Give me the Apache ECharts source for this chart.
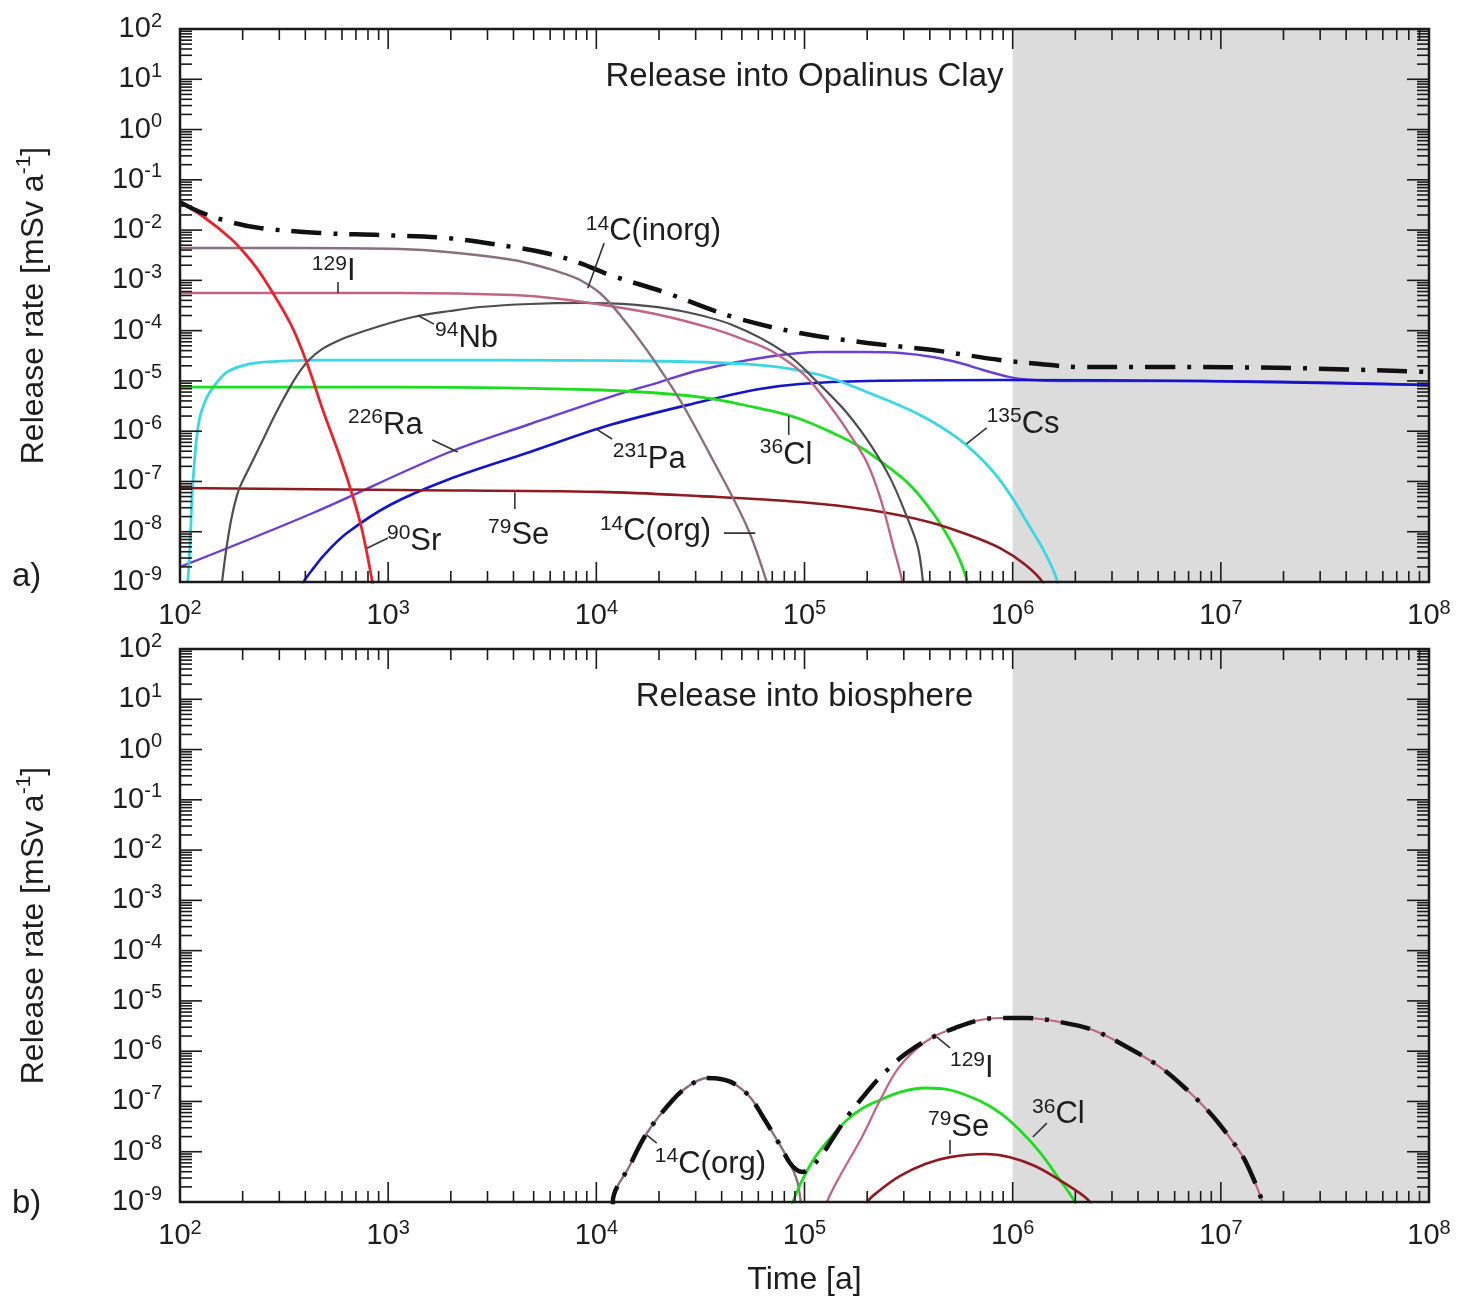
<!DOCTYPE html>
<html>
<head>
<meta charset="UTF-8">
<title>Release rates</title>
<script src="https://cdn.jsdelivr.net/npm/echarts@6/dist/echarts.min.js"></script>
<style>
html,body{margin:0;padding:0;background:#fff}
#main{width:1458px;height:1298px}
</style>
</head>
<body>
<div id="main"></div>
<script>
// data: [time (a), release rate (mSv/a)]
// a) release into Opalinus Clay
var sr90 = [[100,3.6e-2],[132,1.74e-2],[174,6.95e-3],[210,3.05e-3],[250,1.17e-3],[338,1.42e-4],[407,2.27e-5],[486,2.6e-6],[587,3.06e-7],[678,4.9e-8],[749,1.08e-8],[836,1.1e-9],[850,6e-10]];
var c14inorg = [[100,4.4e-3],[377,4.4e-3],[1140,4.2e-3],[1920,3.67e-3],[3980,2.54e-3],[5990,1.68e-3],[7060,1.34e-3],[8350,1.02e-3],[1.04e4,5.6e-4],[1.3e4,2.05e-4],[1.75e4,4.1e-5],[2.52e4,4.17e-6],[3.63e4,2.67e-7],[5.3e4,1.24e-8],[6.61e4,9.5e-10],[6.8e4,5e-10]];
var i129 = [[100,5.6e-4],[1140,5.6e-4],[3980,5.1e-4],[6700,4.25e-4],[1.16e4,3.09e-4],[2.02e4,2.05e-4],[3.52e4,1.13e-4],[5.18e4,6.5e-5],[7.06e4,3.76e-5],[1.0e5,1.31e-5],[1.37e5,2.64e-6],[1.67e5,8e-7],[2.0e5,2.33e-7],[2.33e5,4.27e-8],[2.66e5,5.4e-9],[2.94e5,1.1e-9],[3.0e5,5e-10]];
var nb94 = [[159,9.5e-10],[163,2.2e-9],[168,5.4e-9],[176,1.71e-8],[185,4.2e-8],[194,7.8e-8],[222,2.43e-7],[250,6.7e-7],[289,2.3e-6],[338,7.6e-6],[377,1.57e-5],[421,2.72e-5],[481,4.3e-5],[555,5.9e-5],[634,7.5e-5],[914,1.24e-4],[1320,1.87e-4],[1980,2.46e-4],[2760,2.95e-4],[4800,3.39e-4],[8400,3.55e-4],[1.5e4,3.3e-4],[2.5e4,2.5e-4],[4.5e4,1.3e-4],[8.1e4,3.6e-5],[1.2e5,8e-6],[1.6e5,2.3e-6],[2.1e5,5e-7],[2.6e5,1.1e-7],[3.1e5,2e-8],[3.5e5,5e-9],[3.7e5,1.1e-9],[3.75e5,5e-10]];
var cs135 = [[109,9.5e-10],[112,6.8e-9],[114,4.3e-8],[117,2.12e-7],[121,9.2e-7],[126,2.3e-6],[135,4.8e-6],[147,8.3e-6],[168,1.5e-5],[205,2.07e-5],[262,2.38e-5],[471,2.6e-5],[3440,2.6e-5],[1.81e4,2.49e-5],[6.1e4,2.07e-5],[1.19e5,1.31e-5],[2.06e5,5.7e-6],[3.59e5,2.1e-6],[5.58e5,6.7e-7],[7.78e5,1.85e-7],[9.7e5,5.6e-8],[1.21e6,1.24e-8],[1.43e6,3.8e-9],[1.63e6,1.1e-9],[1.66e6,5e-10]];
var cl36 = [[100,7.55e-6],[1140,7.55e-6],[1.04e4,6.6e-6],[3.15e4,4.78e-6],[6.6e4,2.64e-6],[9.5e4,1.75e-6],[1.37e5,9.2e-7],[1.85e5,4.84e-7],[2.38e5,2.33e-7],[3.21e5,8.5e-8],[4.14e5,2.36e-8],[5.0e5,6.8e-9],[5.58e5,2.7e-9],[6.04e5,1e-9],[6.1e5,5e-10]];
var se79 = [[100,7.4e-8],[1140,6.76e-8],[1.04e4,6.2e-8],[3.15e4,5.1e-8],[9.5e4,3.9e-8],[2.06e5,2.7e-8],[4.0e5,1.55e-8],[6.2e5,8.5e-9],[8.7e5,4.7e-9],[1.15e6,2.2e-9],[1.4e6,9.6e-10],[1.45e6,5e-10]];
var ra226 = [[100,1.99e-9],[435,2.36e-8],[1920,3.68e-7],[4800,1.39e-6],[1.16e4,4.78e-6],[2.02e4,9.5e-6],[3.15e4,1.65e-5],[6.6e4,2.99e-5],[1.19e5,3.76e-5],[2.0e5,3.76e-5],[2.88e5,3.59e-5],[4.14e5,2.99e-5],[5.58e5,2.27e-5],[7.2e5,1.65e-5],[9.7e5,1.19e-5],[1.25e6,1.04e-5],[1.69e6,9.95e-6],[7.94e6,9.95e-6],[1e8,8.3e-6]];
var pa231 = [[385,6.9e-10],[390,9.5e-10],[431,1.73e-9],[497,3.6e-9],[634,9.4e-9],[1020,3.4e-8],[1920,1.07e-7],[4800,3.85e-7],[1.16e4,1.32e-6],[3.15e4,3.8e-6],[6.1e4,6.9e-6],[9.5e4,8.7e-6],[2.0e5,9.95e-6],[8.7e5,1.04e-5],[7.94e6,9.95e-6],[1e8,8.3e-6]];
var totalA = [[100,3.6e-2],[125,2.29e-2],[174,1.45e-2],[242,1.1e-2],[471,8.75e-3],[914,7.98e-3],[1920,6.95e-3],[3980,4.6e-3],[5990,3.34e-3],[8350,2.21e-3],[1.16e4,1.28e-3],[2.18e4,5.6e-4],[4.53e4,1.87e-4],[9.5e4,8.97e-5],[2.0e5,5.7e-5],[4.14e5,4.1e-5],[8.7e5,2.6e-5],[1.35e6,2.17e-5],[2.1e6,1.89e-5],[5.1e6,1.89e-5],[2.22e7,1.8e-5],[1e8,1.5e-5]];

// b) release into biosphere
var c14orgB = [[1.24e4,5.5e-10],[1.2e4,1e-9],[1.45e4,5.4e-9],[1.75e4,2.36e-8],[2.33e4,1.07e-7],[2.82e4,2.12e-7],[3.4e4,2.92e-7],[3.93e4,2.8e-7],[4.53e4,2.33e-7],[5.47e4,1.23e-7],[6.32e4,4.9e-8],[7.38e4,1.71e-8],[8.51e4,5.96e-9],[9.2e4,2.7e-9],[9.5e4,1.37e-9],[9.72e4,6.3e-10]];
var cl36B = [[8.6e4,6.3e-10],[8.8e4,1e-9],[9.5e4,2.18e-9],[1.1e5,6.8e-9],[1.33e5,1.87e-8],[1.6e5,4.27e-8],[1.91e5,7.4e-8],[2.31e5,1.07e-7],[2.88e5,1.54e-7],[3.8e5,1.85e-7],[5.0e5,1.69e-7],[6.97e5,1.02e-7],[8.7e5,5.9e-8],[1.08e6,2.7e-8],[1.35e6,9.8e-9],[1.65e6,3.1e-9],[1.99e6,1e-9],[2.04e6,6.3e-10]];
var i129B = [[1.25e5,6.3e-10],[1.28e5,1e-9],[1.48e5,3.3e-9],[1.69e5,8.6e-9],[1.91e5,2.15e-8],[2.31e5,1.07e-7],[2.78e5,4.2e-7],[3.4e5,1.05e-6],[4.14e5,1.91e-6],[5.28e5,2.89e-6],[6.97e5,4.17e-6],[8.7e5,4.57e-6],[1.17e6,4.57e-6],[1.69e6,3.8e-6],[2.43e6,2.64e-6],[3.54e6,1.21e-6],[5.1e6,4.84e-7],[6.73e6,1.85e-7],[8.87e6,5.9e-8],[1.08e7,2.15e-8],[1.28e7,7.8e-9],[1.41e7,3.4e-9],[1.51e7,1.73e-9],[1.58e7,1e-9],[1.62e7,5.5e-10]];
var se79B = [[1.95e5,6.3e-10],[2.0e5,1e-9],[2.31e5,1.73e-9],[2.88e5,3.3e-9],[3.8e5,5.7e-9],[5.0e5,7.8e-9],[7.36e5,9.0e-9],[9.7e5,7.8e-9],[1.28e6,5.2e-9],[1.69e6,2.7e-9],[2.1e6,1.5e-9],[2.35e6,1e-9],[2.43e6,6.3e-10]];
var totalB = [[1.24e4,5.5e-10],[1.2e4,1e-9],[1.45e4,5.4e-9],[1.75e4,2.36e-8],[2.33e4,1.07e-7],[2.82e4,2.12e-7],[3.4e4,2.92e-7],[3.93e4,2.8e-7],[4.53e4,2.33e-7],[5.47e4,1.23e-7],[6.32e4,4.9e-8],[7.38e4,1.71e-8],[8.51e4,5.96e-9],[9.2e4,4.3e-9],[9.84e4,3.95e-9],[1.06e5,4.74e-9],[1.19e5,7.8e-9],[1.37e5,1.87e-8],[1.6e5,4.9e-8],[1.91e5,1.23e-7],[2.31e5,3.06e-7],[2.88e5,7.3e-7],[3.4e5,1.21e-6],[4.14e5,1.91e-6],[5.28e5,2.89e-6],[6.97e5,4.17e-6],[8.7e5,4.57e-6],[1.17e6,4.57e-6],[1.69e6,3.8e-6],[2.43e6,2.64e-6],[3.54e6,1.21e-6],[5.1e6,4.84e-7],[6.73e6,1.85e-7],[8.87e6,5.9e-8],[1.08e7,2.15e-8],[1.28e7,7.8e-9],[1.41e7,3.4e-9],[1.51e7,1.73e-9],[1.58e7,1e-9],[1.62e7,5.5e-10]];

// curve labels: [sup, text, anchor (left, middle), leader from, leader to]
var notesA = [
  ['14', 'C(inorg)', [8.9e3, 9.2e-3], [1.09e4, 5.5e-3], [9.1e3, 7.0e-4]],
  ['129', 'I', [430, 1.47e-3], [574, 9.3e-4], [574, 5.6e-4]],
  ['94', 'Nb', [1.68e3, 7.1e-5], [1.39e3, 2.0e-4], [1.66e3, 1.35e-4]],
  ['226', 'Ra', [641, 1.33e-6], [1.63e3, 6.7e-7], [2.16e3, 3.85e-7]],
  ['90', 'Sr', [987, 6.5e-9], [791, 4.7e-9], [998, 7.5e-9]],
  ['79', 'Se', [3.02e3, 8.6e-9], [4.06e3, 6.0e-8], [4.06e3, 2.83e-8]],
  ['231', 'Pa', [1.2e4, 2.8e-7], [1.0e4, 1.1e-6], [1.19e4, 7.0e-7]],
  ['36', 'Cl', [6.1e4, 3.36e-7], [8.4e4, 2.0e-6], [8.4e4, 8.4e-7]],
  ['14', 'C(org)', [1.04e4, 9.9e-9], [4.1e4, 9.4e-9], [5.8e4, 9.4e-9]],
  ['135', 'Cs', [7.5e5, 1.39e-6], [6.0e5, 5.6e-7], [7.5e5, 1.16e-6]]
];
var notesB = [
  ['14', 'C(org)', [1.91e4, 5.7e-9], [1.75e4, 2.15e-8], [1.95e4, 1.49e-8]],
  ['129', 'I', [5.0e5, 4.6e-7], [4.33e5, 1.9e-6], [5.0e5, 1.16e-6]],
  ['79', 'Se', [3.92e5, 3.1e-8], [5.0e5, 1.71e-8], [5.0e5, 9.0e-9]],
  ['36', 'Cl', [1.24e6, 5.4e-8], [1.25e6, 1.96e-8], [1.46e6, 3.7e-8]]
];

var FONT = "'Liberation Sans', Arial, Helvetica, sans-serif";
var INK = '#1e1e1e';

function powLabel(v) {
  var e = Math.round(Math.log(v) / Math.LN10);
  return '{b|10}{s|' + e + '}';
}
var tickRich = {
  b: {fontSize: 29, fontFamily: FONT, color: INK, lineHeight: 36},
  s: {fontSize: 20, fontFamily: FONT, color: INK, lineHeight: 20, verticalAlign: 'top'}
};
var nameRich = {
  n: {fontSize: 32, fontFamily: FONT, color: INK, lineHeight: 40},
  s: {fontSize: 21, fontFamily: FONT, color: INK, lineHeight: 22, verticalAlign: 'top'}
};

// tick marks drawn inside the frame on all four sides
function buildTicks() {
  var out = [], e, m;
  for (e = 2; e <= 8; e++) {
    out.push([Math.pow(10, e), 1, 0]);
    if (e < 8) for (m = 2; m <= 9; m++) out.push([m * Math.pow(10, e), 1, 1]);
  }
  for (e = -9; e <= 2; e++) {
    out.push([1000, Math.pow(10, e), 2]);
    if (e < 2) for (m = 2; m <= 9; m++) out.push([1000, m * Math.pow(10, e), 3]);
  }
  out.push([1000, 1, 4]);
  return out;
}
function renderTicks(params, api) {
  var cs = params.coordSys;
  var kind = api.value(2);
  var st = {stroke: '#1a1a1a', lineWidth: 1.6};
  var bottom = cs.y + cs.height, right = cs.x + cs.width;
  if (kind === 4) {
    return {type: 'rect', shape: {x: cs.x, y: cs.y, width: cs.width, height: cs.height},
      style: {fill: null, stroke: '#1a1a1a', lineWidth: 2.5}};
  }
  if (kind < 2) {
    var px = api.coord([api.value(0), 1])[0];
    var len = kind === 0 ? 20 : 11;
    return {type: 'group', children: [
      {type: 'line', shape: {x1: px, y1: bottom, x2: px, y2: bottom - len}, style: st},
      {type: 'line', shape: {x1: px, y1: cs.y, x2: px, y2: cs.y + len}, style: st}
    ]};
  }
  var py = api.coord([1000, api.value(1)])[1];
  var ylen = kind === 2 ? 22 : 12;
  return {type: 'group', children: [
    {type: 'line', shape: {x1: cs.x, y1: py, x2: cs.x + ylen, y2: py}, style: st},
    {type: 'line', shape: {x1: right, y1: py, x2: right - ylen, y2: py}, style: st}
  ]};
}

function xAxisOf(g, extra) {
  var ax = {
    gridIndex: g, type: 'log', logBase: 10, min: 100, max: 1e8, interval: 1,
    axisLine: {show: false}, axisTick: {show: false}, splitLine: {show: false},
    axisLabel: {formatter: powLabel, rich: tickRich, margin: 16, showMinLabel: true, showMaxLabel: true}
  };
  return Object.assign(ax, extra || {});
}
function yAxisOf(g) {
  return {
    gridIndex: g, type: 'log', logBase: 10, min: 1e-9, max: 100, interval: 1,
    axisLine: {show: false}, axisTick: {show: false}, splitLine: {show: false},
    axisLabel: {formatter: powLabel, rich: tickRich, margin: 18, showMinLabel: true, showMaxLabel: true},
    name: '{n|Release rate [mSv a}{s|-1}{n|]}', nameLocation: 'middle', nameGap: 126,
    nameTextStyle: {rich: nameRich}
  };
}

function curve(name, data, color, width, g) {
  return {
    name: name, type: 'line', xAxisIndex: g, yAxisIndex: g, data: data,
    showSymbol: false, symbol: 'none', smooth: 0.35, z: 3, silent: true,
    lineStyle: {color: color, width: width}
  };
}
function total(name, data, g) {
  return {
    name: name, type: 'line', xAxisIndex: g, yAxisIndex: g, data: data,
    showSymbol: false, symbol: 'none', smooth: 0.35, z: 6, silent: true,
    lineStyle: {color: '#111', width: 4.5, type: [30, 12, 4, 12], cap: 'butt'}
  };
}
function shade(g) {
  return {
    type: 'line', xAxisIndex: g, yAxisIndex: g, data: [], silent: true, z: 1,
    markArea: {silent: true, itemStyle: {color: '#dcdcdc'}, data: [[{xAxis: 1e6}, {xAxis: 1e8}]]}
  };
}
function tickSeries(g) {
  return {
    type: 'custom', xAxisIndex: g, yAxisIndex: g, coordinateSystem: 'cartesian2d',
    data: buildTicks(), renderItem: renderTicks, encode: {x: 0, y: 1},
    silent: true, clip: false, z: 20
  };
}

var chart = echarts.init(document.getElementById('main'));
chart.setOption({
  animation: false,
  backgroundColor: '#fff',
  grid: [
    {left: 180, top: 29, width: 1249, height: 553, containLabel: false, outerBoundsMode: 'none'},
    {left: 180, top: 649, width: 1249, height: 553, containLabel: false, outerBoundsMode: 'none'}
  ],
  xAxis: [
    xAxisOf(0),
    xAxisOf(1, {name: 'Time [a]', nameLocation: 'middle', nameGap: 60,
      nameTextStyle: {fontSize: 32, fontFamily: FONT, color: INK, lineHeight: 36}})
  ],
  yAxis: [yAxisOf(0), yAxisOf(1)],
  series: [
    shade(0),
    curve('226Ra', ra226, '#6b3fd6', 2.4, 0),
    curve('231Pa', pa231, '#1515c8', 2.6, 0),
    curve('135Cs', cs135, '#3cd7e4', 2.8, 0),
    curve('36Cl', cl36, '#1fdc1f', 2.8, 0),
    curve('79Se', se79, '#8e1b22', 2.6, 0),
    curve('94Nb', nb94, '#4e4e4e', 2.2, 0),
    curve('129I', i129, '#bf6585', 2.4, 0),
    curve('14C(inorg)', c14inorg, '#8a6f7e', 2.4, 0),
    curve('90Sr', sr90, '#e8232b', 2.8, 0),
    total('Total a', totalA, 0),
    tickSeries(0),
    shade(1),
    curve('14C(org)', c14orgB, '#8a6f7e', 2.4, 1),
    curve('36Cl', cl36B, '#1fdc1f', 2.8, 1),
    curve('129I', i129B, '#bf6585', 2.2, 1),
    curve('79Se', se79B, '#8e1b22', 2.6, 1),
    total('Total b', totalB, 1),
    tickSeries(1)
  ]
});

// labels and leader lines, placed through the chart's own scales
var noteRich = {
  n: {fontSize: 31, fontFamily: FONT, fill: INK, color: INK, lineHeight: 36},
  s: {fontSize: 21, fontFamily: FONT, fill: INK, color: INK, lineHeight: 20, verticalAlign: 'top'}
};
var elements = [];
function addNotes(list, g) {
  list.forEach(function (n) {
    var p = chart.convertToPixel({gridIndex: g}, n[2]);
    var a = chart.convertToPixel({gridIndex: g}, n[3]);
    var b = chart.convertToPixel({gridIndex: g}, n[4]);
    elements.push({type: 'line', silent: true, z: 30,
      shape: {x1: a[0], y1: a[1], x2: b[0], y2: b[1]}, style: {stroke: '#333', lineWidth: 1.6}});
    elements.push({type: 'text', silent: true, z: 30, x: p[0], y: p[1],
      style: {text: '{s|' + n[0] + '}{n|' + n[1] + '}', rich: noteRich,
        align: 'left', verticalAlign: 'middle', textAlign: 'left', textVerticalAlign: 'middle'}});
  });
}
addNotes(notesA, 0);
addNotes(notesB, 1);

function plainText(txt, x, y, align) {
  elements.push({type: 'text', silent: true, z: 30, x: x, y: y,
    style: {text: txt, font: '33px ' + FONT, fill: INK,
      align: align, verticalAlign: 'middle', textAlign: align, textVerticalAlign: 'middle'}});
}
var gA = chart.convertToPixel({gridIndex: 0}, [1e5, 1e1]);
var gB = chart.convertToPixel({gridIndex: 1}, [1e5, 1e1]);
plainText('Release into Opalinus Clay', gA[0], gA[1] - 2, 'center');
plainText('Release into biosphere', gB[0], gB[1] - 2, 'center');
plainText('a)', 12, 577, 'left');
plainText('b)', 12, 1204, 'left');

chart.setOption({graphic: {elements: elements}});
</script>
</body>
</html>
